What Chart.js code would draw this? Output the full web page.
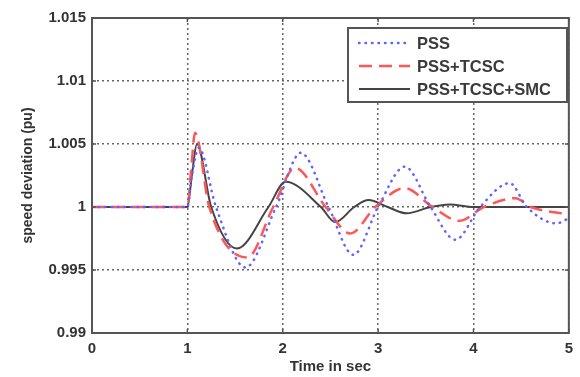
<!DOCTYPE html>
<html>
<head>
<meta charset="utf-8">
<script src="https://cdn.jsdelivr.net/npm/chart.js@4"></script>
<style>
  html, body { margin: 0; padding: 0; background: #fff; }
  #wrap { width: 580px; height: 377px; }
</style>
</head>
<body>
<div id="wrap"><canvas id="myChart" width="580" height="377"></canvas></div>
<script>
// values (time in sec, speed in pu)
const pssTime = [0, 1, 1.05, 1.12, 1.3, 1.61, 1.93, 2.19, 2.48, 2.74, 3.0, 3.28, 3.55, 3.81, 4.07, 4.38, 4.56, 4.87, 5];
const pssSpeed = [1, 1, 1.0026, 1.0047, 1.0, 0.9952, 1.0, 1.0043, 1.0, 0.9962, 1.0, 1.0032, 1.0, 0.9974, 1.0, 1.0019, 1.0, 0.9987, 0.9991];

const tcscTime = [0, 1, 1.04, 1.08, 1.23, 1.63, 1.9, 2.13, 2.45, 2.71, 2.97, 3.28, 3.57, 3.85, 4.11, 4.44, 4.6, 5];
const tcscSpeed = [1, 1, 1.003, 1.0059, 1.0, 0.996, 1.0, 1.0031, 1.0, 0.9979, 1.0, 1.0015, 1.0, 0.9989, 1.0, 1.0007, 1.0, 0.9994];

const smcTime = [0, 1, 1.05, 1.1, 1.25, 1.52, 1.85, 2.03, 2.4, 2.55, 2.75, 2.9, 3.1, 3.3, 3.55, 3.75, 4.0, 5];
const smcSpeed = [1, 1, 1.0027, 1.005, 1.0, 0.9967, 1.0, 1.002, 1.0, 0.9988, 1.0, 1.00055, 1.0, 0.9995, 1.0, 1.0002, 1.0, 1.0];

const seriesNames = ['PSS', 'PSS+TCSC', 'PSS+TCSC+SMC'];
const xTicks = [0, 1, 2, 3, 4, 5];
const yTicks = [0.99, 0.995, 1, 1.005, 1.01, 1.015];

const FONT = '"Liberation Sans", Arial, sans-serif';

function pts(t, v) {
  return t.map((x, i) => ({ x: x, y: v[i] }));
}

// box round the plot with small inward ticks, like matlab
const boxPlugin = {
  id: 'box',
  afterDatasetsDraw(chart) {
    const ctx = chart.ctx, a = chart.chartArea;
    const xs = chart.scales.x, ys = chart.scales.y;
    ctx.save();
    ctx.strokeStyle = '#555';
    ctx.lineWidth = 2;
    ctx.strokeRect(a.left, a.top, a.right - a.left, a.bottom - a.top);
    ctx.lineWidth = 1.5;
    xTicks.forEach(v => {
      const px = xs.getPixelForValue(v);
      ctx.beginPath();
      ctx.moveTo(px, a.bottom); ctx.lineTo(px, a.bottom - 4);
      ctx.moveTo(px, a.top); ctx.lineTo(px, a.top + 4);
      ctx.stroke();
    });
    yTicks.forEach(v => {
      const py = ys.getPixelForValue(v);
      ctx.beginPath();
      ctx.moveTo(a.left, py); ctx.lineTo(a.left + 4, py);
      ctx.moveTo(a.right, py); ctx.lineTo(a.right - 4, py);
      ctx.stroke();
    });
    ctx.restore();
  }
};

// legend box inside the top right corner
const legendBox = {
  id: 'legendBox',
  afterDraw(chart) {
    const ctx = chart.ctx;
    const x0 = 348, y0 = 28, w = 219, h = 74;
    ctx.save();
    ctx.fillStyle = '#fff';
    ctx.fillRect(x0, y0, w, h);
    ctx.strokeStyle = '#555';
    ctx.lineWidth = 2;
    ctx.strokeRect(x0, y0, w, h);
    ctx.font = 'bold 16.5px ' + FONT;
    ctx.textBaseline = 'middle';
    chart.data.datasets.forEach((ds, i) => {
      const y = y0 + 15 + i * 23;
      ctx.beginPath();
      ctx.strokeStyle = ds.borderColor;
      ctx.lineWidth = ds.borderWidth;
      ctx.lineCap = ds.borderCapStyle || 'butt';
      ctx.setLineDash(ds.borderDash || []);
      ctx.moveTo(359, y); ctx.lineTo(410, y);
      ctx.stroke();
      ctx.setLineDash([]);
      ctx.fillStyle = '#3a3a3a';
      ctx.fillText(ds.label, 417, y + 1);
    });
    ctx.restore();
  }
};

const myChart = new Chart('myChart', {
  type: 'line',
  data: {
    datasets: [
      {
        label: seriesNames[0],
        data: pts(pssTime, pssSpeed),
        borderColor: '#6262ff',
        borderWidth: 2.5,
        borderCapStyle: 'round',
        borderDash: [0.5, 6]
      },
      {
        label: seriesNames[1],
        data: pts(tcscTime, tcscSpeed),
        borderColor: '#ff5656',
        borderWidth: 2.5,
        borderDash: [13, 7]
      },
      {
        label: seriesNames[2],
        data: pts(smcTime, smcSpeed),
        borderColor: '#444',
        borderWidth: 2
      }
    ]
  },
  options: {
    responsive: false,
    animation: false,
    layout: { padding: { left: 0, right: 7, top: 18, bottom: 0 } },
    elements: {
      point: { radius: 0 },
      line: { cubicInterpolationMode: 'monotone' }
    },
    plugins: {
      legend: { display: false },
      tooltip: { enabled: false }
    },
    scales: {
      x: {
        type: 'linear',
        min: 0, max: 5,
        afterBuildTicks: s => { s.ticks = xTicks.map(v => ({ value: v })); },
        afterFit: s => { s.height = 44; },
        grid: { color: '#666', lineWidth: 1.5, drawTicks: false },
        border: { display: false, dash: [2, 3] },
        ticks: { color: '#333', padding: 7, font: { size: 15, weight: 'bold', family: FONT } },
        title: {
          display: true, text: 'Time in sec', color: '#333',
          font: { size: 15, weight: 'bold', family: FONT },
          padding: { top: 0, bottom: 1 }
        }
      },
      y: {
        min: 0.99, max: 1.015,
        afterBuildTicks: s => { s.ticks = yTicks.map(v => ({ value: v })); },
        afterFit: s => { s.width = 92; },
        grid: { color: '#666', lineWidth: 1.5, drawTicks: false },
        border: { display: false, dash: [2, 3] },
        ticks: {
          color: '#333', padding: 6,
          font: { size: 15, weight: 'bold', family: FONT },
          callback: v => String(+v.toFixed(3))
        },
        title: {
          display: true, text: 'speed deviation (pu)', color: '#333',
          font: { size: 14, weight: 'bold', family: FONT },
          padding: { top: 20, bottom: 0 }
        }
      }
    }
  },
  plugins: [boxPlugin, legendBox]
});
</script>
</body>
</html>
